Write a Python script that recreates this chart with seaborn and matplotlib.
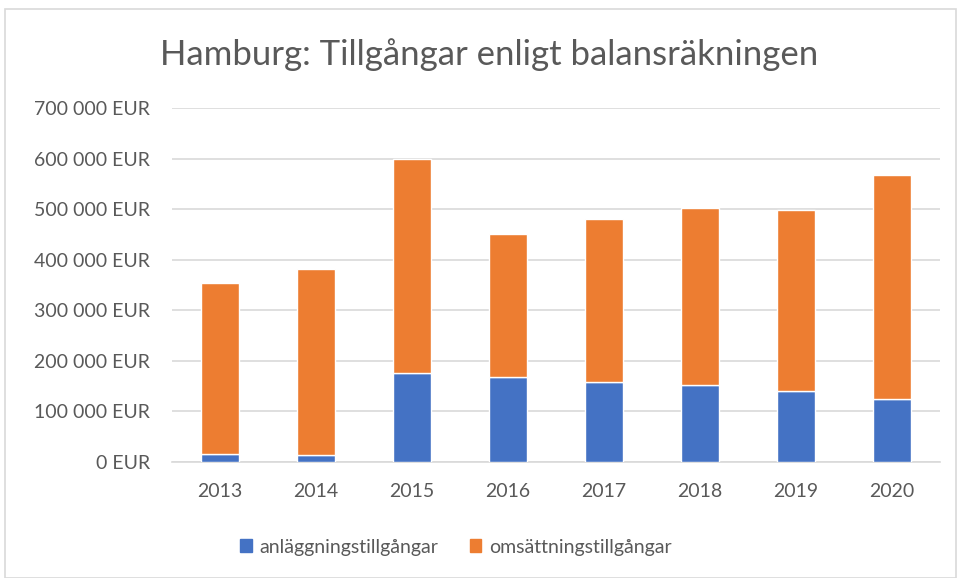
import matplotlib
matplotlib.use("Agg")
import matplotlib.pyplot as plt
import matplotlib.ticker as mticker
from matplotlib.patches import Rectangle, Patch
import pandas as pd
import seaborn as sns

YEARS = ["2013", "2014", "2015", "2016", "2017", "2018", "2019", "2020"]
ANLAGGNING = [15800, 13800, 176700, 168800, 158900, 152200, 141100, 125300]
TOTAL = [354500, 381400, 598800, 451400, 479600, 502800, 497400, 566600]
OMSATTNING = [t - a for t, a in zip(TOTAL, ANLAGGNING)]

SERIES = ["anläggningstillgångar", "omsättningstillgångar"]
COLORS = {"anläggningstillgångar": "#4472C4", "omsättningstillgångar": "#ED7D31"}
TITLE = "Hamburg: Tillgångar enligt balansräkningen"
TEXT = "#595959"


def eur(x, pos):
    return f"{int(x):,} EUR".replace(",", " ")


def main():
    sns.set_style("white")
    plt.rcParams["font.family"] = ["Lato", "DejaVu Sans"]

    df = pd.DataFrame({"year": YEARS, "anl": ANLAGGNING, "oms": OMSATTNING})

    fig = plt.figure(figsize=(9.57, 5.78), dpi=100)
    ax = fig.add_axes([172 / 957, 1 - 462 / 578, 768 / 957, 354 / 578])

    sns.barplot(data=df, x="year", y="anl", color=COLORS[SERIES[0]],
                width=0.4, saturation=1, ax=ax, zorder=3)
    sns.barplot(data=df, x="year", y="oms", bottom=df["anl"],
                color=COLORS[SERIES[1]], width=0.4, saturation=1, ax=ax, zorder=3)

    ax.set_ylim(0, 700000)
    ax.set_xlim(-0.5, len(YEARS) - 0.5)
    ax.yaxis.set_major_locator(mticker.MultipleLocator(100000))
    ax.yaxis.set_major_formatter(mticker.FuncFormatter(eur))
    ax.grid(axis="y", color="#d9d9d9", linewidth=1.2, zorder=0)
    ax.set_axisbelow(True)
    for side in ["top", "right", "left"]:
        ax.spines[side].set_visible(False)
    ax.spines["bottom"].set_color("#d9d9d9")
    ax.spines["bottom"].set_linewidth(1.2)
    ax.tick_params(axis="both", length=0, labelsize=14, colors=TEXT)
    ax.tick_params(axis="y", pad=16)
    ax.tick_params(axis="x", pad=15)
    ax.set_xlabel("")
    ax.set_ylabel("")

    fig.text(489 / 957, 1 - 55 / 578, TITLE, ha="center", va="center",
             fontsize=25, color=TEXT)

    handles = [Patch(color=COLORS[s]) for s in SERIES]
    fig.legend(handles, SERIES, loc="center", bbox_to_anchor=(456 / 957, 1 - 547 / 578),
               ncol=2, frameon=False, fontsize=14, handlelength=0.6, handleheight=0.6,
               columnspacing=1.6, handletextpad=0.4, labelcolor=TEXT)

    fig.patches.append(Rectangle((5 / 957, 0), 951 / 957, 1 - 9 / 578,
                                 transform=fig.transFigure, fill=False,
                                 edgecolor="#d9d9d9", linewidth=1.2))

    fig.savefig("out.png", dpi=100)


if __name__ == "__main__":
    main()
